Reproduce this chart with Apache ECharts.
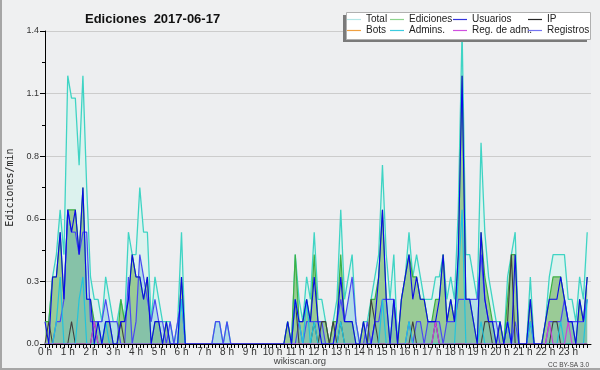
<!DOCTYPE html>
<html><head><meta charset="utf-8">
<script src="https://cdn.jsdelivr.net/npm/echarts@6/dist/echarts.min.js"></script>
<style>
html,body{margin:0;padding:0;background:#eff0f1;}
#wrap{position:relative;width:600px;height:370px;}
#c{width:600px;height:370px;}
#frame{position:absolute;left:0;top:0;width:600px;height:370px;box-sizing:border-box;border-left:2px solid #a6a6a6;border-bottom:2px solid #a6a6a6;pointer-events:none;}
</style></head><body><div id="wrap"><div id="c"></div><div id="frame"></div></div>
<script>
// 10-minute bins, 0h00 .. 23h50 (values in edits per minute)
const hourLabels = ['0 h','1 h','2 h','3 h','4 h','5 h','6 h','7 h','8 h','9 h','10 h','11 h','12 h','13 h','14 h','15 h','16 h','17 h','18 h','19 h','20 h','21 h','22 h','23 h'];
const total = [
0.1,0.1,0.3,0.4,0.6,0.4, 1.2,1.1,1.1,0.8,1.2,0.7, 0.3,0.2,0.2,0.1,0.3,0.2, 0.1,0.1,0.2,0.1,0.5,0.4,
0.4,0.7,0.5,0.5,0.1,0.3, 0.2,0.1,0.1,0.1,0,0.1, 0.5,0,0,0,0,0, 0,0,0,0.1,0.1,0,
0.1,0,0,0,0,0, 0,0,0,0,0,0, 0,0,0,0,0.1,0, 0.4,0.2,0.1,0.3,0.2,0.5,
0.2,0.2,0.1,0,0.1,0.2, 0.6,0.2,0.3,0.4,0.1,0, 0.1,0.1,0.2,0.3,0.4,0.8, 0.4,0.2,0.4,0,0.2,0.3,
0.5,0.3,0.4,0.3,0.2,0.2, 0.2,0.3,0.3,0.4,0.2,0.3, 0.2,0.6,1.4,0.4,0.4,0.3, 0.2,0.9,0.5,0.3,0.2,0.1,
0.1,0,0.3,0.4,0.5,0, 0,0,0.3,0,0,0, 0.1,0.3,0.4,0.4,0.4,0.4, 0.2,0.2,0.1,0.3,0.2,0.5];
const ediciones = [
0.1,0.1,0.3,0.3,0.5,0.2, 0.6,0.6,0.6,0.4,0.7,0.2, 0.2,0.1,0.1,0,0.1,0.1, 0,0,0.2,0.1,0.2,0.4,
0.3,0.3,0.2,0.3,0,0.1, 0.1,0,0.1,0,0,0, 0.3,0,0,0,0,0, 0,0,0,0,0,0,
0,0,0,0,0,0, 0,0,0,0,0,0, 0,0,0,0,0.1,0, 0.4,0.1,0.1,0.2,0.1,0.4,
0.1,0.1,0.1,0,0.1,0.1, 0.4,0.1,0.1,0.1,0,0, 0.1,0,0.2,0.2,0.3,0.6, 0.2,0,0.2,0,0.2,0.3,
0.4,0.3,0.3,0.2,0.2,0.1, 0.1,0.2,0.2,0.4,0.1,0.2, 0.1,0.4,1.2,0.2,0.2,0.1, 0,0.5,0.3,0.2,0.1,0,
0.1,0,0.2,0.4,0.4,0, 0,0,0.2,0,0,0, 0.1,0.2,0.3,0.3,0.3,0.2, 0.1,0.1,0,0.2,0.1,0.3];
const usuarios = [
0.1,0,0.3,0.3,0.5,0.2, 0.6,0.5,0.6,0.4,0.7,0.2, 0.2,0,0.1,0,0.1,0.1, 0,0,0.1,0.1,0.2,0.4,
0.3,0.3,0.2,0.3,0,0.1, 0.1,0,0.1,0,0,0, 0.3,0,0,0,0,0, 0,0,0,0,0,0,
0,0,0,0,0,0, 0,0,0,0,0,0, 0,0,0,0,0.1,0, 0.2,0.1,0.1,0.2,0.1,0.3,
0.1,0,0,0,0,0.1, 0.3,0.1,0.1,0.1,0,0, 0.1,0,0,0.1,0.3,0.6, 0.2,0,0.2,0,0.2,0.3,
0.4,0.2,0.3,0.2,0.2,0.1, 0.1,0.1,0.2,0.4,0.1,0.2, 0.1,0.4,1.2,0.2,0.2,0.1, 0,0.5,0.2,0.1,0.1,0,
0.1,0,0.1,0,0.4,0, 0,0,0.2,0,0,0, 0.1,0.2,0.2,0.2,0.3,0.2, 0.1,0.1,0,0.2,0.1,0.3];
const ip = [
0,0.1,0,0,0,0, 0,0.1,0,0,0,0, 0,0.1,0,0,0,0, 0,0,0.1,0,0,0,
0,0,0,0,0,0, 0,0,0,0,0,0, 0,0,0,0,0,0, 0,0,0,0,0,0,
0,0,0,0,0,0, 0,0,0,0,0,0, 0,0,0,0,0,0, 0.2,0,0,0,0,0.1,
0,0.1,0.1,0,0.1,0, 0.1,0,0,0,0,0, 0,0,0.2,0.1,0,0, 0,0,0,0,0,0,
0,0.1,0,0,0,0, 0,0.1,0,0,0,0, 0,0,0,0,0,0, 0,0,0.1,0.1,0,0,
0,0,0.1,0.4,0,0, 0,0,0,0,0,0, 0,0,0.1,0.1,0,0, 0,0,0,0,0,0];
const bots = [
0,0,0,0,0,0, 0,0,0,0,0,0, 0,0,0,0,0,0, 0,0,0,0,0,0,
0,0,0,0,0,0, 0,0,0,0,0,0, 0,0,0,0,0,0, 0,0,0,0,0,0,
0,0,0,0,0,0, 0,0,0,0,0,0, 0,0,0,0,0,0, 0,0,0,0,0,0,
0,0,0,0,0,0, 0,0,0,0,0,0, 0,0,0,0,0,0, 0,0,0,0,0,0,
0,0,0,0,0,0, 0,0,0,0,0,0, 0,0,0,0,0,0, 0,0,0,0,0,0,
0,0,0,0,0,0, 0,0,0,0,0,0, 0,0,0,0,0,0, 0,0,0,0,0,0];
const admins = [
0,0,0,0.1,0.3,0, 0,0,0,0.2,0.3,0, 0,0,0,0,0.1,0, 0,0,0,0,0,0,
0,0,0,0,0,0, 0,0,0,0,0,0, 0.2,0,0,0,0,0, 0,0,0,0,0,0,
0,0,0,0,0,0, 0,0,0,0,0,0, 0,0,0,0,0,0, 0.2,0.1,0,0.2,0,0.1,
0,0,0,0,0,0, 0.1,0,0,0,0,0, 0,0,0,0,0,0.2, 0,0,0,0,0,0,
0.1,0,0,0,0,0, 0,0,0,0,0,0, 0,0.3,0.6,0,0,0, 0,0.1,0,0,0,0,
0,0,0.1,0,0,0, 0,0,0.1,0,0,0, 0,0,0,0,0.1,0, 0,0,0,0,0,0.2];
const regAdm = [
0,0,0,0,0,0, 0,0,0,0,0,0, 0,0.1,0,0,0,0, 0,0,0,0,0,0,
0,0,0,0,0,0, 0,0,0,0,0,0, 0,0,0,0,0,0, 0,0,0,0,0,0,
0,0,0,0,0,0, 0,0,0,0,0,0, 0,0,0,0,0,0, 0,0,0,0,0,0,
0,0,0,0,0,0, 0,0,0,0,0,0, 0,0,0,0,0,0, 0,0,0,0,0,0,
0,0,0,0,0,0, 0,0.1,0,0,0,0, 0,0,0,0,0,0, 0,0,0,0,0,0,
0,0,0,0,0,0, 0,0,0,0,0,0, 0,0.1,0,0,0,0, 0.1,0,0,0,0,0];
const registros = [
0,0,0,0.1,0.1,0.2, 0.6,0.5,0.5,0.4,0.5,0.5, 0.1,0.1,0.1,0.1,0.2,0.1, 0.1,0.1,0,0,0.3,0,
0.1,0.4,0.3,0.2,0.1,0.2, 0.1,0.1,0,0.1,0,0.1, 0.2,0,0,0,0,0, 0,0,0,0.1,0.1,0,
0.1,0,0,0,0,0, 0,0,0,0,0,0, 0,0,0,0,0,0, 0,0.1,0,0.1,0.1,0.1,
0.1,0.1,0,0,0,0.1, 0.2,0.1,0.2,0.3,0.1,0, 0,0.1,0,0.1,0.1,0.2, 0.2,0.2,0.2,0,0,0,
0.1,0,0.1,0.1,0,0.1, 0.1,0.1,0.1,0,0.1,0.1, 0.1,0.2,0.2,0.2,0.2,0.2, 0.2,0.4,0.2,0.1,0.1,0.1,
0,0,0.1,0,0.1,0, 0,0,0.1,0,0,0, 0,0.1,0.1,0.1,0.1,0.2, 0.1,0.1,0.1,0.1,0.1,0.2];

const pts = arr => arr.map((v, i) => [i, v]);
const font = 'Liberation Sans, Arial, sans-serif';

function line(name, data, color, width, area, z) {
  const s = {name, type:'line', data: pts(data), showSymbol:false, symbol:'none', silent:true,
    lineStyle:{color, width}, itemStyle:{color}, z: z, animation:false};
  if (area) s.areaStyle = {color: area, opacity: 1};
  return s;
}

function legend(left, names, colors) {
  return {left, top: 14, orient:'vertical', padding:0, itemGap:0, itemWidth:14, itemHeight:1.2,
    icon:'rect', selectedMode:false, z: 20,
    textStyle:{fontFamily:font, fontSize:10, color:'#222', lineHeight:11, padding:[0,0,0,0]},
    data: names.map((n, k) => ({name:n, itemStyle:{color:colors[k]}}))};
}

const chart = echarts.init(document.getElementById('c'), null, {renderer:'canvas'});
chart.setOption({
  backgroundColor:'#eff0f1',
  animation:false,
  title:{text:'Ediciones  2017-06-17', left:80, top:8,
    textStyle:{fontFamily:font, fontSize:13, fontWeight:'bold', color:'#111'}},
  grid:{left:45, right:9, top:31, bottom:26, show:true, backgroundColor:'#edeef0', borderWidth:0,
    containLabel:false, outerBoundsMode:'none'},
  xAxis:{type:'value', min:0, max:144, interval:1, z:10,
    axisLine:{show:true, lineStyle:{color:'#000', width:1}},
    axisTick:{show:true, length:4, lineStyle:{color:'#000'}},
    axisLabel:{margin:3, fontFamily:font, fontSize:10, color:'#333', showMaxLabel:false,
      formatter: v => (v % 6 === 0 && v < 144) ? hourLabels[v/6] : ''},
    splitLine:{show:false}},
  yAxis:{type:'value', min:0, max:1.4, interval:0.28,
    name:'Ediciones/min', nameLocation:'middle', nameGap:29, nameRotate:90,
    nameTextStyle:{fontFamily:'DejaVu Sans Mono, monospace', fontSize:10, color:'#222'},
    axisLine:{show:true, lineStyle:{color:'#000', width:1}},
    axisTick:{show:true, length:5, lineStyle:{color:'#000'}},
    minorTick:{show:true, splitNumber:2, length:3, lineStyle:{color:'#000'}},
    axisLabel:{margin:6, fontFamily:font, fontSize:9, color:'#333', formatter: v => v.toFixed(1)},
    splitLine:{show:true, lineStyle:{color:'#cccccc', width:1}}},
  legend:[
    legend(347, ['Total','Bots'], ['#b4e6e6','#f0a040']),
    legend(390, ['Ediciones','Admins.'], ['#8ed48e','#3ccce0']),
    legend(453, ['Usuarios','Reg. de adm.'], ['#3434dc','#d050e0']),
    legend(528, ['IP','Registros'], ['#262626','#7474f2'])
  ],
  graphic:[
    {type:'rect', z:15, shape:{x:343, y:15, width:244, height:27}, style:{fill:'#7a7a7a'}},
    {type:'rect', z:16, shape:{x:346.5, y:12.5, width:244, height:27}, style:{fill:'#ffffff', stroke:'#b0b0b0', lineWidth:1}},
    {type:'text', z:16, left:'center', top:356, style:{text:'wikiscan.org', fontFamily:font, fontSize:9.5, fill:'#444'}},
    {type:'text', z:16, right:11, top:362, style:{text:'CC BY-SA 3.0', fontFamily:font, fontSize:6.5, fill:'#444'}}
  ],
  series:[
    line('Bots', bots, '#f0a040', 1, null, 1),
    line('Total', total, '#3fd4c4', 1.3, '#dcf2ee', 2),
    line('Ediciones', ediciones, '#3cb043', 1.2, '#9acb96', 3),
    line('Registros', registros, '#4a4af2', 1.2, 'rgba(91,177,211,0.3)', 4),
    line('IP', ip, '#404040', 1.1, null, 5),
    line('Admins.', admins, '#22c4dc', 1.2, null, 6),
    line('Reg. de adm.', regAdm, '#c844dc', 1.2, null, 7),
    line('Usuarios', usuarios, '#0a0ae8', 1.1, null, 8)
  ]
});
</script></body></html>
